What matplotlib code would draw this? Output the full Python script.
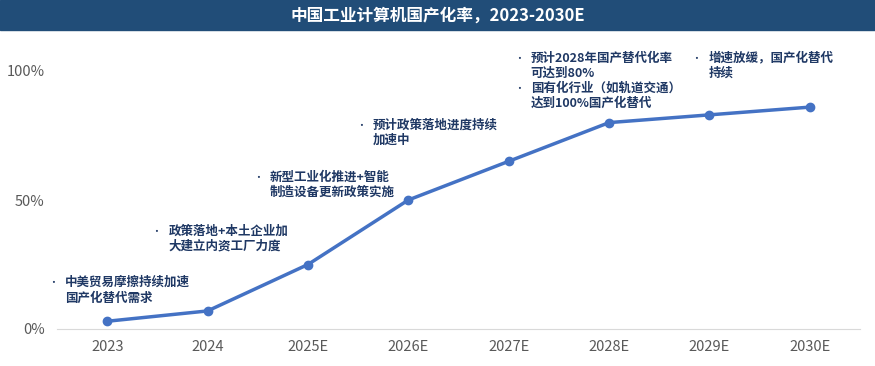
import matplotlib.pyplot as plt
from matplotlib.patches import Rectangle

plt.rcParams['font.family'] = ['Noto Sans CJK SC', 'DejaVu Sans']

years = ['2023', '2024', '2025E', '2026E', '2027E', '2028E', '2029E', '2030E']
rate = [3, 7, 25, 50, 65, 80, 83, 86]
y_ticks = [0, 50, 100]
y_labels = ['0%', '50%', '100%']

# annotations: (x in category units, top y in %, lines)
notes = [
    (-0.42, 20.5, ['中美贸易摩擦持续加速', '国产化替代需求']),
    (0.61, 40.5, ['政策落地+本土企业加', '大建立内资工厂力度']),
    (1.62, 61.5, ['新型工业化推进+智能', '制造设备更新政策实施']),
    (2.65, 81.5, ['预计政策落地进度持续', '加速中']),
    (4.22, 107.5, ['预计2028年国产替代化率', '可达到80%']),
    (4.22, 96.0, ['国有化行业（如轨道交通）', '达到100%国产化替代']),
    (5.99, 107.5, ['增速放缓，国产化替代', '持续']),
]

fig = plt.figure(figsize=(8.75, 3.66), dpi=100)
ax = fig.add_axes([57/875, 1-329/366, (860-57)/875, 258*1.1/366])

x = list(range(len(years)))
ax.plot(x, rate, color='#4472c4', lw=2.5, marker='o', ms=6, zorder=3)

ax.set_xlim(-0.5, len(years)-0.5)
ax.set_ylim(0, 110)
ax.set_xticks(x)
ax.set_xticklabels(years, fontsize=10.5, color='#595959')
ax.set_yticks(y_ticks)
ax.set_yticklabels(y_labels, fontsize=10.5, color='#595959')
ax.tick_params(length=0)
ax.tick_params(axis='x', pad=8)
ax.tick_params(axis='y', pad=9)
for s in ['top', 'right', 'left']:
    ax.spines[s].set_visible(False)
ax.spines['bottom'].set_color('#d9d9d9')

for nx, ny, lines in notes:
    ax.text(nx - 0.17, ny - 2.8, '•', fontsize=7, color='#1f3864', va='center',
            ha='left', clip_on=False)
    ax.text(nx, ny, '\n'.join(lines), fontsize=9, color='#1f3864',
            fontweight='bold', va='top', ha='left', linespacing=1.25,
            clip_on=False)

fig.patches.append(Rectangle((0, 1-30/366), 1, 30/366, transform=fig.transFigure,
                             color='#214d78', zorder=0))
fig.text(0.5, 1-16/366, '中国工业计算机国产化率，2023-2030E', color='white',
         fontsize=12, fontweight='bold', ha='center', va='center')

fig.savefig('out.png', dpi=100)
